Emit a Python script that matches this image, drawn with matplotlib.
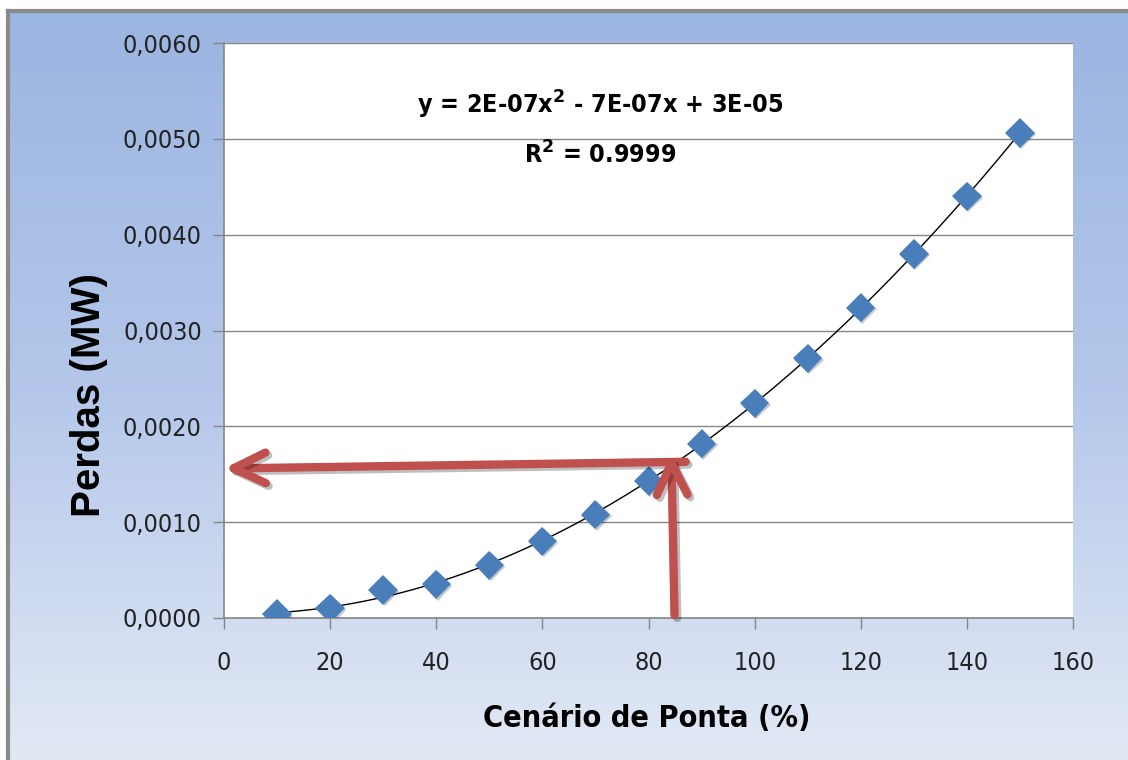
import matplotlib.pyplot as plt
import numpy as np
from matplotlib.colors import LinearSegmentedColormap
from matplotlib.ticker import FuncFormatter
from matplotlib import font_manager
import matplotlib.patheffects as pe

# data
cenario = [10, 20, 30, 40, 50, 60, 70, 80, 90, 100, 110, 120, 130, 140, 150]
perdas = [0.00004, 0.00010, 0.00029, 0.00035, 0.00055, 0.00080, 0.00108,
          0.00143, 0.00182, 0.00224, 0.00271, 0.00324, 0.00380, 0.00440, 0.00506]

x_ticks = [0, 20, 40, 60, 80, 100, 120, 140, 160]
y_ticks = [0.0, 0.001, 0.002, 0.003, 0.004, 0.005, 0.006]

eq_text = "y = 2E-07x$^{\\mathbf{2}}$ - 7E-07x + 3E-05"
r2_text = "R$^{\\mathbf{2}}$ = 0.9999"

# reading arrows (x, y in data units)
arrow_up = ((84.9, 0.00003), (84.3, 0.00172))
arrow_left = ((87.0, 0.00163), (0.0, 0.00156))

fig = plt.figure(figsize=(11.28, 7.6), dpi=100)
fig.patch.set_facecolor("white")

# gradient background with grey frame
bg = fig.add_axes([8 / 1128, 0, 1 - 8 / 1128, 1 - 11 / 760])
cmap = LinearSegmentedColormap.from_list("bg", ["#9BB5E1", "#B4C7EA", "#E2E9F5"])
bg.imshow(np.linspace(0, 1, 256).reshape(-1, 1), aspect="auto", cmap=cmap,
          extent=[0, 1, 0, 1])
bg.set_xlim(0, 1)
bg.set_ylim(0, 1)
bg.set_xticks([])
bg.set_yticks([])
for s in ["right", "bottom"]:
    bg.spines[s].set_visible(False)
for s in ["top", "left"]:
    bg.spines[s].set_color("#8A8A8A")
    bg.spines[s].set_linewidth(3)

ax = fig.add_axes([224 / 1128, 1 - 618 / 760, (1073 - 224) / 1128, (618 - 43) / 760])
ax.set_facecolor("white")

# trend line (quadratic fit)
coef = np.polyfit(cenario, perdas, 2)
xs = np.linspace(min(cenario), max(cenario), 300)
ax.plot(xs, np.polyval(coef, xs), color="black", lw=1.0, zorder=3)

ax.plot(cenario, perdas, linestyle="none", marker="D", ms=15,
        color="#4A7EBB", markeredgewidth=0, zorder=4,
        path_effects=[pe.SimplePatchShadow(offset=(1, -1), alpha=0.25), pe.Normal()])

# arrows
for (x0, y0), (x1, y1) in [arrow_left, arrow_up]:
    ax.annotate("", xy=(x1, y1), xytext=(x0, y0),
                arrowprops=dict(arrowstyle="->,head_length=1.15,head_width=0.55",
                                color="#C0504D", lw=6, capstyle="round",
                                joinstyle="round", mutation_scale=20,
                                shrinkA=0, shrinkB=0,
                                path_effects=[pe.SimpleLineShadow(offset=(2, -2), alpha=0.25),
                                              pe.Normal()]),
                annotation_clip=False, zorder=5)

ax.set_xlim(0, 160)
ax.set_ylim(0, 0.006)
ax.set_xticks(x_ticks)
ax.set_yticks(y_ticks)
ax.yaxis.set_major_formatter(FuncFormatter(lambda v, p: f"{v:.4f}".replace(".", ",")))
ax.grid(axis="y", color="#868686", lw=1)
ax.set_axisbelow(True)
for s in ["top", "right"]:
    ax.spines[s].set_visible(False)
for s in ["left", "bottom"]:
    ax.spines[s].set_color("#868686")
    ax.spines[s].set_linewidth(1.2)
ax.tick_params(direction="out", length=8, color="#868686", width=1, pad=8,
               labelcolor="#222222")
ax.tick_params(axis="x", pad=16)

tick_font = font_manager.FontProperties(family="DejaVu Sans", stretch="condensed", size=18)
bold_font = font_manager.FontProperties(family="DejaVu Sans", stretch="condensed",
                                        weight="bold", size=18)
xlab_font = font_manager.FontProperties(family="DejaVu Sans", stretch="condensed",
                                        weight="bold", size=22)
for lab in ax.get_xticklabels() + ax.get_yticklabels():
    lab.set_fontproperties(tick_font)

ax.text(0.443, 0.893, eq_text, transform=ax.transAxes, ha="center", va="center",
        fontproperties=bold_font)
ax.text(0.443, 0.805, r2_text, transform=ax.transAxes, ha="center", va="center",
        fontproperties=bold_font)

ax.set_xlabel("Cenário de Ponta (%)", fontproperties=xlab_font)
ax.xaxis.set_label_coords((647 - 224) / 849, -(704 - 618) / 575)
ax.set_ylabel("Perdas (MW)", fontsize=29, fontweight="bold", family="Liberation Sans")
ax.yaxis.set_label_coords((108 - 224) / 849, (618 - 395) / 575)

fig.savefig("out.png", dpi=100)
